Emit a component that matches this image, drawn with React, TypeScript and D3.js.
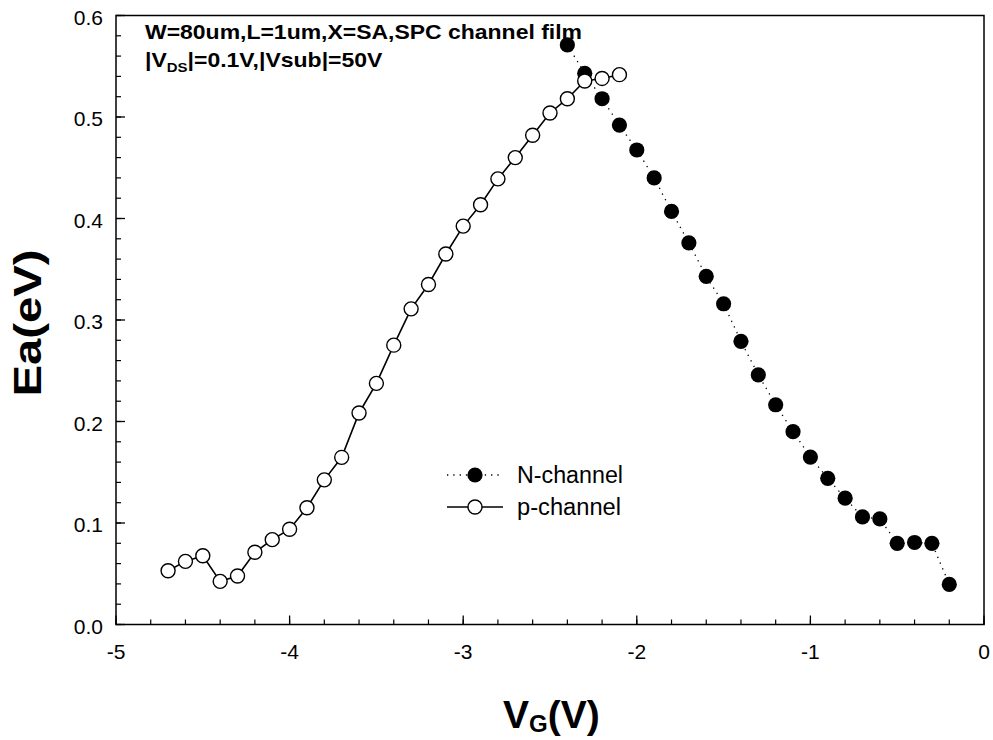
import React from "react";
import * as d3 from "d3";

const vgN = [-2.4, -2.3, -2.2, -2.1, -2.0, -1.9, -1.8, -1.7, -1.6, -1.5, -1.4, -1.3, -1.2, -1.1, -1.0, -0.9, -0.8, -0.7, -0.6, -0.5, -0.4, -0.3, -0.2];
const eaN = [0.571, 0.543, 0.518, 0.492, 0.4675, 0.440, 0.407, 0.376, 0.343, 0.316, 0.279, 0.246, 0.2165, 0.190, 0.165, 0.144, 0.1245, 0.106, 0.104, 0.080, 0.0808, 0.080, 0.0395];

const vgP = [-4.7, -4.6, -4.5, -4.4, -4.3, -4.2, -4.1, -4.0, -3.9, -3.8, -3.7, -3.6, -3.5, -3.4, -3.3, -3.2, -3.1, -3.0, -2.9, -2.8, -2.7, -2.6, -2.5, -2.4, -2.3, -2.2, -2.1];
const eaP = [0.053, 0.0622, 0.0677, 0.0425, 0.0478, 0.0712, 0.0836, 0.0939, 0.115, 0.1425, 0.1647, 0.2084, 0.2376, 0.2752, 0.311, 0.335, 0.365, 0.3925, 0.4135, 0.439, 0.460, 0.482, 0.504, 0.518, 0.5355, 0.538, 0.5417];

const xMajorTicks = [-5, -4, -3, -2, -1, 0];
const yMajorTicks = [0.0, 0.1, 0.2, 0.3, 0.4, 0.5, 0.6];

const FONT = "Arial, 'Liberation Sans', Helvetica, sans-serif";

export default function App() {
  const W = 993, H = 740;
  const left = 116, right = 984, top = 15.5, bottom = 624.5;
  const x = d3.scaleLinear().domain([-5, 0]).range([left, right]);
  const y = d3.scaleLinear().domain([0, 0.6]).range([bottom, top]);

  const xMinor = d3.range(-5, 0.0001, 0.2).map((v) => Math.round(v * 10) / 10);
  const yMinor = d3.range(0, 0.6001, 0.02).map((v) => Math.round(v * 100) / 100);

  const nData = vgN.map((v, i) => [v, eaN[i]] as [number, number]);
  const pData = vgP.map((v, i) => [v, eaP[i]] as [number, number]);
  const line = d3.line<[number, number]>().x((d) => x(d[0])).y((d) => y(d[1]));

  return (
    <svg width={W} height={H} style={{ position: "absolute", left: 0, top: 0, background: "#fff" }} fontFamily={FONT}>
      <rect x={0} y={0} width={W} height={H} fill="#fff" />
      {/* minor ticks */}
      {xMinor.map((v, i) => (
        <line key={"xm" + i} x1={x(v)} x2={x(v)} y1={bottom} y2={bottom - 5} stroke="#000" strokeWidth={1.2} />
      ))}
      {yMinor.map((v, i) => (
        <line key={"ym" + i} x1={left} x2={left + 5} y1={y(v)} y2={y(v)} stroke="#000" strokeWidth={1.2} />
      ))}
      {xMajorTicks.map((v) => (
        <g key={"xt" + v}>
          <line x1={x(v)} x2={x(v)} y1={bottom} y2={bottom - 9} stroke="#000" strokeWidth={1.3} />
          <text x={x(v)} y={bottom + 34} fontSize={21} textAnchor="middle">{v === 0 ? "0" : String(v)}</text>
        </g>
      ))}
      {yMajorTicks.map((v) => (
        <g key={"yt" + v}>
          <line x1={left} x2={left + 9} y1={y(v)} y2={y(v)} stroke="#000" strokeWidth={1.3} />
          <text x={left - 13} y={y(v) + 9} fontSize={21} textAnchor="end">{v.toFixed(1)}</text>
        </g>
      ))}
      {/* frame */}
      <rect x={left} y={top} width={right - left} height={bottom - top} fill="none" stroke="#000" strokeWidth={1.5} />

      {/* N-channel */}
      <path d={line(nData) || ""} fill="none" stroke="#000" strokeWidth={1.3} strokeDasharray="1.3 5" />
      {nData.map((d, i) => (
        <circle key={"n" + i} cx={x(d[0])} cy={y(d[1])} r={7.6} fill="#000" />
      ))}
      {/* p-channel */}
      <path d={line(pData) || ""} fill="none" stroke="#000" strokeWidth={1.6} />
      {pData.map((d, i) => (
        <circle key={"p" + i} cx={x(d[0])} cy={y(d[1])} r={7} fill="#fff" stroke="#000" strokeWidth={1.4} />
      ))}

      {/* legend */}
      <line x1={447} x2={503} y1={475} y2={475} stroke="#000" strokeWidth={1.3} strokeDasharray="1.3 5" />
      <circle cx={475} cy={475} r={7.6} fill="#000" />
      <text x={517} y={483} fontSize={23} textLength={106} lengthAdjust="spacingAndGlyphs">N-channel</text>
      <line x1={447} x2={503} y1={507} y2={507} stroke="#000" strokeWidth={1.6} />
      <circle cx={475} cy={507} r={7} fill="#fff" stroke="#000" strokeWidth={1.4} />
      <text x={517} y={515} fontSize={23} textLength={104} lengthAdjust="spacingAndGlyphs">p-channel</text>

      {/* annotation */}
      <text x={145} y={39} fontSize={20} fontWeight="bold" textLength={437} lengthAdjust="spacingAndGlyphs">W=80um,L=1um,X=SA,SPC channel film</text>
      <g transform="translate(145,0) scale(1.15,1)">
        <text x={0} y={67} fontSize={20} fontWeight="bold">
          |V<tspan fontSize={13} dy={5}>DS</tspan><tspan dy={-5}>|=0.1V,|Vsub|=50V</tspan>
        </text>
      </g>

      {/* axis titles */}
      <text transform="translate(41,323) rotate(-90)" fontSize={39} fontWeight="bold" textAnchor="middle" textLength={147} lengthAdjust="spacingAndGlyphs">Ea(eV)</text>
      <text x={503} y={728} fontSize={39} fontWeight="bold">
        V<tspan fontSize={24} dy={4}>G</tspan><tspan dy={-4}>(V)</tspan>
      </text>
    </svg>
  );
}
